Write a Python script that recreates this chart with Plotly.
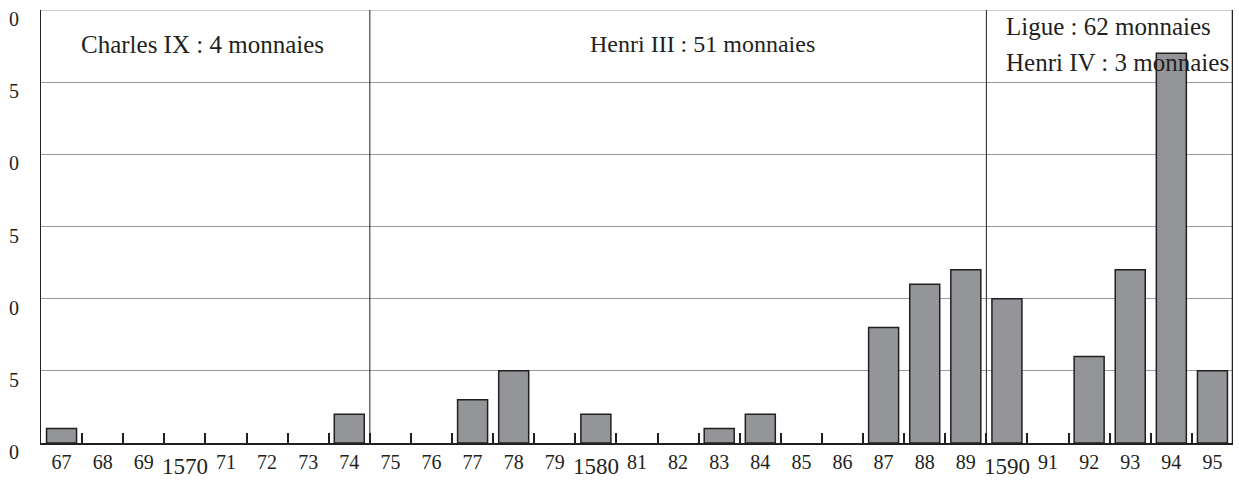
import plotly.graph_objects as go

years = list(range(1567, 1596))
counts = [1, 0, 0, 0, 0, 0, 0, 2, 0, 0, 3, 5, 0, 2, 0, 0, 1, 2, 0, 0, 8, 11, 12, 10, 0, 6, 12, 27, 5]
x_labels = [str(y)[2:] if y % 10 else "" for y in years]
decades = [1570, 1580, 1590]
y_ticks = [0, 5, 10, 15, 20, 25, 30]
y_labels = ["0", "5", "0", "5", "0", "5", "0"]
reigns = ["Charles IX : 4 monnaies", "Henri III : 51 monnaies"]
reign_centers = [3.42, 15.6]
ligue_lines = ["Ligue : 62 monnaies", "Henri IV : 3 monnaies"]
separators = [7.5, 22.5]

FONT = "Liberation Serif"
DARK = "#231f20"

cats = [str(y) for y in years]
fig = go.Figure(go.Bar(
    x=cats, y=[c if c else None for c in counts],
    marker=dict(color="#939598", line=dict(color=DARK, width=1.5)),
))

fig.update_layout(
    width=1239, height=481,
    margin=dict(l=41, r=6, t=10, b=38, autoexpand=False),
    plot_bgcolor="white", paper_bgcolor="white",
    bargap=0.27, showlegend=False,
    font=dict(family=FONT, size=20, color=DARK),
)
fig.update_xaxes(
    type="category", tickvals=cats, ticktext=x_labels,
    tickson="boundaries", ticks="inside", ticklen=10, tickwidth=2, tickcolor=DARK,
    showline=True, linecolor=DARK, linewidth=1.5, showgrid=False,
    range=[-0.5, len(years) - 0.5], automargin=False,
)
fig.update_yaxes(
    range=[0, 30], tickvals=y_ticks, ticktext=y_labels,
    showgrid=True, gridcolor="#9a9a9a", gridwidth=1,
    showline=True, linecolor=DARK, linewidth=1,
    ticks="", ticklabelstandoff=17, ticklabelshift=9, zeroline=False,
    automargin=False,
)

# top frame line (gray, like the grid)
fig.add_shape(type="line", xref="paper", yref="y", x0=0, x1=1, y0=30, y1=30,
              line=dict(color="#9a9a9a", width=1))
for s in separators:
    fig.add_shape(type="line", xref="x", yref="paper", x0=s, x1=s, y0=0, y1=1,
                  line=dict(color=DARK, width=1))
fig.add_shape(type="line", xref="x", yref="paper", x0=len(years) - 0.5, x1=len(years) - 0.5,
              y0=0, y1=1, line=dict(color=DARK, width=2.5))

# decade years sit lower than the two-digit labels
for d in decades:
    fig.add_annotation(x=years.index(d), y=-0.087, xref="x", yref="paper", text=str(d),
                       showarrow=False, yanchor="bottom", font=dict(size=23))

for t, c in zip(reigns, reign_centers):
    fig.add_annotation(x=c, y=0.921, xref="x", yref="paper", text=t, showarrow=False,
                       yanchor="middle", font=dict(size=25))
fig.layout.annotations[-1].font.size = 24
for t, yy in zip(ligue_lines, [0.962, 0.878]):
    fig.add_annotation(x=22.93, y=yy, xref="x", yref="paper", text=t, showarrow=False,
                       xanchor="left", yanchor="middle", font=dict(size=25))

fig.write_html("out.html", config={"displayModeBar": False},
               post_script="document.body.style.margin='0';")
